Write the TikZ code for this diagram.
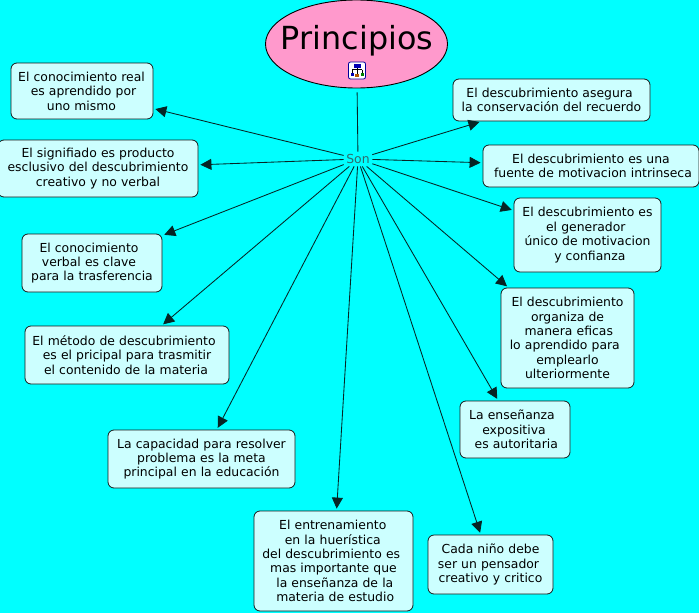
\documentclass[tikz,border=0pt]{standalone}
\usepackage{fontspec}
\setmainfont{DejaVu Sans}
\usetikzlibrary{arrows.meta,shapes.geometric}
\definecolor{bgc}{HTML}{00FFFF}
\definecolor{boxc}{HTML}{CCFFFF}
\definecolor{pinkc}{HTML}{FF99CC}
\definecolor{linec}{HTML}{062525}
\definecolor{sonc}{HTML}{2F6C6C}
\tikzset{
  cbox/.style={draw=black!90,fill=boxc,rounded corners=6pt,line width=0.8pt,inner sep=0pt,align=center,font=\fontsize{12.4}{14.4}\selectfont,text=black},
  link/.style={draw=linec,line width=0.85pt,-{Triangle[length=11pt,width=11pt]},shorten >=2pt},
  stem/.style={draw=linec,line width=0.85pt}
}
\newcommand{\sh}[1]{\hspace*{#1pt}}
\newcommand{\bx}[6]{\node[cbox,text width=#4 pt-#2 pt,minimum width=#4 pt-#2 pt,minimum height=#5 pt-#3 pt] (#1) at ({(#2+#4)/2},{(#3+#5)/2}) {#6};\draw[link] (son) -- (#1);}
\begin{document}
\begin{tikzpicture}[x=1pt,y=-1pt]
\useasboundingbox (0,0) rectangle (699,613);
\fill[bgc] (0,0) rectangle (699,613);
\clip (0,0) rectangle (699,613);
\node[inner sep=2.5pt,font=\fontsize{12.4}{14}\selectfont,text=sonc] (son) at (358,159) {Son};
\node[ellipse,draw=black,fill=pinkc,line width=0.9pt,minimum width=182pt,minimum height=88pt,inner sep=0pt] (root) at (356.5,44) {};
\node[font=\fontsize{31.8}{38}\selectfont,text=black,inner sep=0pt] (title) at (357,41) {Principios};
\draw[stem,shorten <=4pt] (root) -- (son);
\begin{scope}[shift={(357,70.5)}]
\draw[draw=blue!60!black,fill=white,rounded corners=2pt,line width=0.8pt] (-8.5,-8.5) rectangle (8.5,8.5);
\draw[line width=0.5pt] (0,-4) -- (0,4) (-5,-1) -- (5,-1) (-5,-1) -- (-5,3) (5,-1) -- (5,3);
\fill[blue!70!black] (-3.5,-6.5) rectangle (3.5,-3);
\fill[blue!70!black] (-6.5,2) rectangle (-3.5,5);
\fill[green!50!black] (3.5,2) rectangle (6.5,5);
\fill[orange!70!black] (-2,3.5) rectangle (2,6.5);
\end{scope}
\bx{a}{11}{63}{153}{119}{\sh{-1}El conocimiento real\\\sh{3}es aprendido por\\\sh{-1}uno mismo}
\bx{b}{-2}{140}{198}{197}{El signifiado es producto\\esclusivo del descubrimiento\\creativo y no verbal}
\bx{c}{22}{234}{162}{292}{\sh{-6}El conocimiento\\\sh{-6}verbal es clave\\para la trasferencia}
\bx{d}{25}{326}{229}{384}{\sh{-6}El método de descubrimiento\\es el pricipal para trasmitir\\\sh{-2}el contenido de la materia}
\bx{e}{108}{430}{295}{488}{La capacidad para resolver\\problema es la meta\\principal en la educación}
\bx{f}{254}{511}{413}{611}{\sh{-1.4}El entrenamiento\\\sh{-1.4}en la huerística\\\sh{-4.6}del descubrimiento es\\mas importante que\\\sh{2.6}la enseñanza de la\\\sh{3.4}materia de estudio}
\bx{g}{428}{535}{553}{594}{Cada niño debe\\\sh{-4}ser un pensador\\creativo y critico}
\bx{h}{460}{401}{570}{458}{\sh{-6}La enseñanza\\\sh{-2}expositiva\\\sh{2.6}es autoritaria}
\bx{i}{501}{288}{634}{388}{El descubrimiento\\organiza de\\\sh{2.6}manera eficas\\\sh{-5.4}lo aprendido para\\emplearlo\\ulteriormente}
\bx{j}{514}{198}{661}{272}{El descubrimiento es\\\sh{-3.4}el generador\\único de motivacion\\\sh{4.6}y confianza}
\bx{k}{483}{145}{699}{187}{El descubrimiento es una\\\sh{4}fuente de motivacion intrinseca}
\bx{l}{453}{79}{650}{121}{\sh{-4}El descubrimiento asegura\\la conservación del recuerdo}
\end{tikzpicture}
\end{document}
